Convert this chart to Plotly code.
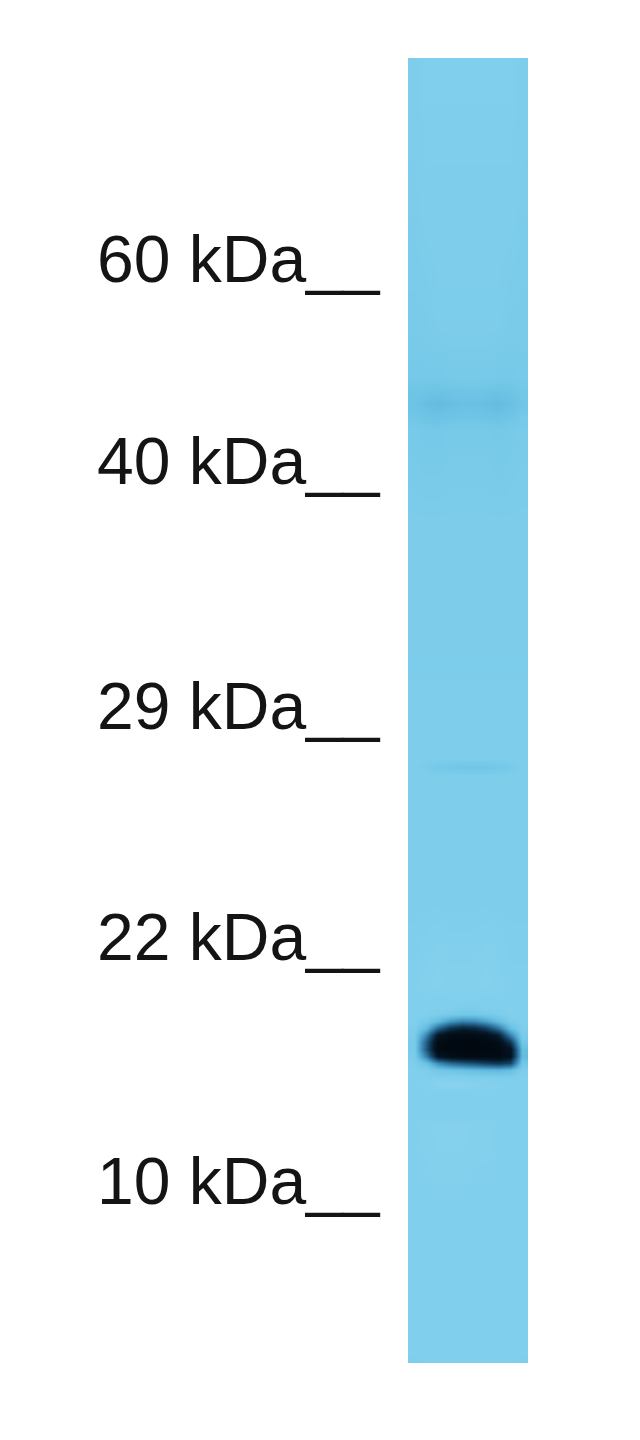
import plotly.graph_objects as go

# ladder markers (kDa) and where they ran on the membrane (px from top of image)
marker_kda = [60, 40, 29, 22, 10]
marker_migration = [285, 487, 732, 963, 1207]

# lane readout: intensity grid, 0 = plain membrane, 1 = saturated band, <0 = paler
lane_x = [414, 426, 438, 450, 462, 474, 486, 498, 510, 522]
lane_y = [62, 70, 200, 330, 378, 392, 404, 416, 430, 520, 640, 758, 767, 776, 900,
          985, 1000, 1007, 1014, 1021, 1028, 1035, 1042, 1049, 1056, 1063, 1070,
          1077, 1084, 1092, 1118, 1126, 1200, 1300, 1354, 1360]
lane_z = [
    [0.01, 0.00, 0.00, 0.00, 0.00, 0.00, 0.00, 0.00, 0.00, 0.01],
    [0.01, 0.00, 0.00, 0.00, 0.00, 0.00, 0.00, 0.00, 0.00, 0.01],
    [0.02, 0.01, 0.01, 0.01, 0.01, 0.01, 0.01, 0.01, 0.01, 0.02],
    [0.03, 0.03, 0.02, 0.02, 0.02, 0.02, 0.02, 0.02, 0.03, 0.03],
    [0.05, 0.05, 0.05, 0.04, 0.04, 0.04, 0.04, 0.05, 0.05, 0.04],
    [0.08, 0.09, 0.10, 0.09, 0.08, 0.08, 0.09, 0.10, 0.09, 0.06],
    [0.09, 0.12, 0.13, 0.12, 0.11, 0.11, 0.12, 0.13, 0.11, 0.07],
    [0.07, 0.09, 0.10, 0.09, 0.08, 0.08, 0.09, 0.10, 0.08, 0.05],
    [0.04, 0.05, 0.05, 0.04, 0.04, 0.04, 0.04, 0.05, 0.04, 0.03],
    [0.02, 0.02, 0.02, 0.02, 0.02, 0.02, 0.02, 0.02, 0.02, 0.02],
    [0.02, 0.02, 0.02, 0.02, 0.02, 0.02, 0.02, 0.02, 0.02, 0.02],
    [0.01, 0.01, 0.01, 0.01, 0.01, 0.01, 0.01, 0.01, 0.01, 0.01],
    [0.01, 0.03, 0.05, 0.06, 0.07, 0.07, 0.07, 0.06, 0.04, 0.01],
    [0.01, 0.01, 0.01, 0.01, 0.01, 0.01, 0.01, 0.01, 0.01, 0.01],
    [0.01, 0.01, 0.01, 0.01, 0.01, 0.01, 0.01, 0.01, 0.01, 0.01],
    [0.00, -0.01, -0.02, -0.01, -0.01, -0.01, -0.02, -0.01, 0.00, 0.00],
    [0.00, 0.00, 0.00, 0.00, 0.00, 0.00, 0.00, 0.00, 0.00, 0.00],
    [0.00, 0.00, 0.00, 0.00, 0.01, 0.01, 0.00, 0.00, 0.00, 0.00],
    [0.00, 0.00, 0.02, 0.04, 0.06, 0.06, 0.04, 0.02, 0.00, 0.00],
    [0.00, 0.04, 0.14, 0.27, 0.34, 0.32, 0.24, 0.12, 0.03, 0.00],
    [0.01, 0.14, 0.45, 0.66, 0.74, 0.71, 0.60, 0.40, 0.12, 0.01],
    [0.02, 0.34, 0.83, 0.94, 0.96, 0.95, 0.90, 0.76, 0.36, 0.03],
    [0.03, 0.48, 0.96, 1.00, 1.00, 1.00, 0.98, 0.93, 0.65, 0.06],
    [0.03, 0.50, 0.97, 1.00, 1.00, 1.00, 1.00, 0.98, 0.85, 0.12],
    [0.02, 0.36, 0.84, 0.92, 0.95, 0.96, 0.96, 0.96, 0.86, 0.13],
    [0.01, 0.10, 0.32, 0.44, 0.50, 0.54, 0.60, 0.64, 0.58, 0.07],
    [0.00, 0.01, 0.06, 0.08, 0.10, 0.12, 0.14, 0.15, 0.12, 0.01],
    [0.00, 0.00, 0.00, 0.00, 0.00, 0.01, 0.01, 0.01, 0.01, 0.00],
    [0.00, -0.01, -0.03, -0.03, -0.03, -0.02, -0.01, -0.01, 0.00, 0.00],
    [0.00, 0.00, 0.00, 0.00, 0.00, 0.00, 0.00, 0.00, 0.00, 0.00],
    [0.00, 0.00, 0.00, 0.00, 0.00, 0.00, 0.00, 0.00, 0.00, 0.00],
    [0.00, -0.01, -0.02, -0.02, -0.02, -0.01, -0.01, 0.00, 0.00, 0.00],
    [0.00, 0.00, 0.00, 0.00, 0.00, 0.00, 0.00, 0.00, 0.00, 0.00],
    [0.00, 0.00, 0.00, 0.00, 0.00, 0.00, 0.00, 0.00, 0.00, 0.00],
    [0.00, 0.00, 0.00, 0.00, 0.00, 0.00, 0.00, 0.00, 0.00, 0.00],
    [0.01, 0.00, 0.00, 0.00, 0.00, 0.00, 0.00, 0.00, 0.00, 0.01],
]

blot_scale = [
    [0.0, "#B4E3F4"],
    [0.1667, "#80CFEC"],
    [0.25, "#6BC2E4"],
    [0.333, "#55ADD4"],
    [0.5, "#2F74A0"],
    [0.667, "#12405E"],
    [0.833, "#051726"],
    [1.0, "#010810"],
]

fig = go.Figure()

fig.add_trace(go.Heatmap(
    x=lane_x, y=lane_y, z=lane_z,
    zmin=-0.2, zmax=1.0, zsmooth="best",
    colorscale=blot_scale, showscale=False, hoverinfo="skip",
))

for kda, ypos in zip(marker_kda, marker_migration):
    fig.add_annotation(
        text=f"{kda} kDa__", x=383, y=ypos - 26, xref="x", yref="y",
        xanchor="right", yanchor="middle", showarrow=False,
        font=dict(family="Liberation Sans, Arial", size=66, color="#141414"),
    )

# the page body adds an 8px margin, so the axes are offset to keep image pixels aligned
fig.update_layout(
    width=640, height=1440,
    margin=dict(l=0, r=0, t=0, b=0),
    paper_bgcolor="white", plot_bgcolor="white",
    showlegend=False,
    xaxis=dict(range=[8, 648], visible=False, fixedrange=True),
    yaxis=dict(range=[1448, 8], visible=False, fixedrange=True),
)

fig.write_html("out.html")
